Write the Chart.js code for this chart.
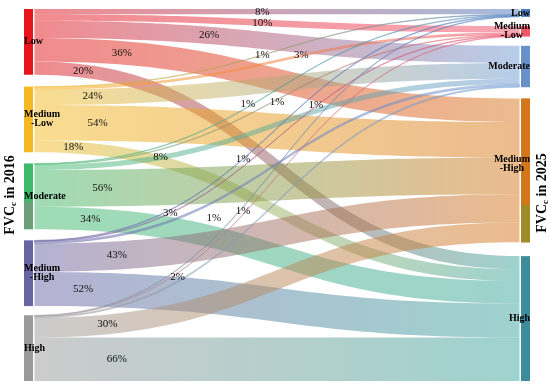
<!DOCTYPE html>
<html>
<head>
<meta charset="utf-8">
<script src="https://cdn.jsdelivr.net/npm/chart.js@4.4.0/dist/chart.umd.min.js"></script>
<style>
  html, body { margin: 0; padding: 0; background: #fff; }
  #wrap { width: 550px; height: 387px; }
</style>
</head>
<body>
<div id="wrap"><canvas id="sankeyChart" width="550" height="387"></canvas></div>
<script>
// FVCc classes in 2016 (left) and 2025 (right)
const sourceNames = ['Low', 'Medium\n-Low', 'Moderate', 'Medium\n-High', 'High'];
const targetNames = ['Low', 'Medium\n-Low', 'Moderate', 'Medium\n-High', 'High'];

// share (%) of each 2016 class ending up in each 2025 class
const fromLow        = [8, 10, 26, 36, 20];
const fromMediumLow  = [1, 3, 24, 54, 18];
const fromModerate   = [1, 1, 8, 56, 34];
const fromMediumHigh = [1, 1, 3, 43, 52];
const fromHigh       = [1, 1, 2, 30, 66];
const flows = [fromLow, fromMediumLow, fromModerate, fromMediumHigh, fromHigh];

// layout + style (kept apart from the data)
const srcGaps = [18, 17, 17, 14];
const tgtGaps = [14, 14, 17, 21];
const NODE_W = 9 / 506;
const LINK_GAP = 1.5 / 506;
const srcColors = ['#e3171f', '#f5bb22', '#41b96c', '#6b66a6', '#999999'];
const tgtColors = ['#4a7bbf', '#f0506a', '#6f9bd3', '#d9781e', '#3ea79e'];
const srcNodeColors = ['#e8141c', '#f5b820', '#3dba6a', '#6a63a2', '#9a9a9a'];
const tgtNodeColors = ['#4d7cbd', '#f25868', '#6891c9', '#d4761a', '#3d8c9c'];
const srcNodeSplit = [null, null, { at: 0.58, color: '#6c9c78' }, null, null];
const tgtNodeSplit = [null, null, null, { at: 0.74, color: '#a08c26' }, null];
const tgtLabelDy = [0, 0, 0, -6, 0];
// where along each link (fraction of its width) the % label sits, plus a small nudge
const labelAlong = [
  [0.47, 0.47, 0.36, 0.18, 0.10],
  [0.47, 0.55, 0.12, 0.13, 0.08],
  [0.44, 0.50, 0.26, 0.14, 0.115],
  [0.58, 0.43, 0.28, 0.17, 0.10],
  [0.37, 0.43, 0.295, 0.15, 0.17]
];
const labelDy = [
  [0, 0, 0, 0, 0],
  [0, 0, 0, 0, 0],
  [-3, 2, 0, 0, 0],
  [12, -8, -8, 0, 0],
  [-20, -3, -5, 0, 0]
];
const SERIF = "'Liberation Serif', 'Times New Roman', serif";

const yMax = 500 + srcGaps.reduce((a, b) => a + b, 0);

function stackStarts(totals, gaps) {
  const starts = [];
  let acc = 0;
  totals.forEach((t, i) => {
    starts.push(acc);
    acc += t + (gaps[i] || 0);
  });
  return starts;
}

function drawNodeLabel(ctx, text, x, yc, align) {
  const lines = text.split('\n');
  ctx.font = 'bold 10px ' + SERIF;
  const w = Math.max(...lines.map(l => ctx.measureText(l).width));
  const cx = align === 'left' ? x + w / 2 : x - w / 2;
  const lh = 9;
  ctx.textAlign = 'center';
  ctx.textBaseline = 'middle';
  ctx.fillStyle = '#000';
  lines.forEach((l, k) => {
    ctx.fillText(l, cx, yc + (k - (lines.length - 1) / 2) * lh);
  });
}

function drawTitle(ctx, year, cx, cy) {
  ctx.save();
  ctx.translate(cx, cy);
  ctx.rotate(-Math.PI / 2);
  const big = 'bold 14px ' + SERIF, small = 'bold 9px ' + SERIF;
  ctx.font = big;
  const w1 = ctx.measureText('FVC').width;
  const w3 = ctx.measureText(' in ' + year).width;
  ctx.font = small;
  const w2 = ctx.measureText('c').width;
  let x = -(w1 + w2 + w3) / 2;
  ctx.fillStyle = '#000';
  ctx.textAlign = 'left';
  ctx.textBaseline = 'middle';
  ctx.font = big;
  ctx.fillText('FVC', x, 0);
  x += w1;
  ctx.font = small;
  ctx.fillText('c', x, 4);
  x += w2;
  ctx.font = big;
  ctx.fillText(' in ' + year, x, 0);
  ctx.restore();
}

const sankeyPlugin = {
  id: 'sankey',
  afterDatasetsDraw(chart) {
    const { ctx, scales: { x, y } } = chart;
    const srcTotals = flows.map(r => r.reduce((a, b) => a + b, 0));
    const tgtTotals = targetNames.map((_, j) => flows.reduce((a, r) => a + r[j], 0));
    const srcStart = stackStarts(srcTotals, srcGaps);
    const tgtStart = stackStarts(tgtTotals, tgtGaps);
    const srcOff = srcStart.slice();
    const tgtOff = tgtStart.slice();

    const x0 = x.getPixelForValue(NODE_W + LINK_GAP);
    const x1 = x.getPixelForValue(1 - NODE_W - LINK_GAP);
    const xm = (x0 + x1) / 2;
    const labels = [];

    ctx.save();
    flows.forEach((row, i) => {
      row.forEach((v, j) => {
        const a0 = y.getPixelForValue(srcOff[i]);
        const a1 = y.getPixelForValue(srcOff[i] + v);
        const b0 = y.getPixelForValue(tgtOff[j]);
        const b1 = y.getPixelForValue(tgtOff[j] + v);
        srcOff[i] += v;
        tgtOff[j] += v;

        const g = ctx.createLinearGradient(x0, 0, x1, 0);
        g.addColorStop(0, srcColors[i]);
        g.addColorStop(1, tgtColors[j]);
        ctx.globalAlpha = 0.5;
        ctx.fillStyle = g;
        ctx.beginPath();
        ctx.moveTo(x0, a0);
        ctx.bezierCurveTo(xm, a0, xm, b0, x1, b0);
        ctx.lineTo(x1, b1);
        ctx.bezierCurveTo(xm, b1, xm, a1, x0, a1);
        ctx.closePath();
        ctx.fill();
        if (v <= 3) {
          // thin links: outline so they read as lines
          ctx.strokeStyle = g;
          ctx.lineWidth = 0.7;
          ctx.stroke();
        }

        // label position: solve bezier parameter for the wanted x
        const a = (a0 + a1) / 2, b = (b0 + b1) / 2;
        const tx = labelAlong[i][j];
        let lo = 0, hi = 1;
        for (let k = 0; k < 30; k++) {
          const u = (lo + hi) / 2;
          const fx = 1.5 * u - 1.5 * u * u + u * u * u;
          if (fx < tx) lo = u; else hi = u;
        }
        const u = (lo + hi) / 2;
        labels.push({
          text: v + '%',
          x: x0 + (x1 - x0) * tx,
          y: a + (b - a) * (3 * u * u - 2 * u * u * u) + labelDy[i][j]
        });
      });
    });
    ctx.globalAlpha = 1;

    // nodes
    const drawNode = (xa, xb, s, t, color, split) => {
      const top = y.getPixelForValue(s), bot = y.getPixelForValue(s + t);
      const left = x.getPixelForValue(xa), right = x.getPixelForValue(xb);
      ctx.fillStyle = color;
      ctx.fillRect(left, top, right - left, bot - top);
      if (split) {
        const mid = top + (bot - top) * split.at;
        ctx.fillStyle = split.color;
        ctx.fillRect(left, mid, right - left, bot - mid);
      }
    };
    srcTotals.forEach((t, i) => drawNode(0, NODE_W, srcStart[i], t, srcNodeColors[i], srcNodeSplit[i]));
    tgtTotals.forEach((t, j) => drawNode(1 - NODE_W, 1, tgtStart[j], t, tgtNodeColors[j], tgtNodeSplit[j]));

    // % labels
    ctx.font = '11px ' + SERIF;
    ctx.fillStyle = '#111';
    ctx.textAlign = 'center';
    ctx.textBaseline = 'middle';
    labels.forEach(l => ctx.fillText(l.text, l.x, l.y));

    // node labels
    srcTotals.forEach((t, i) => {
      const yc = y.getPixelForValue(srcStart[i] + t / 2);
      drawNodeLabel(ctx, sourceNames[i], x.getPixelForValue(0), yc, 'left');
    });
    tgtTotals.forEach((t, j) => {
      const yc = y.getPixelForValue(tgtStart[j] + t / 2) + tgtLabelDy[j];
      drawNodeLabel(ctx, targetNames[j], x.getPixelForValue(1), yc, 'right');
    });

    drawTitle(ctx, '2016', 10, 195);
    drawTitle(ctx, '2025', 542, 193);
    ctx.restore();
  }
};

const sankeyChart = new Chart(document.getElementById('sankeyChart').getContext('2d'), {
  type: 'scatter',
  data: { datasets: [{ data: [] }] },
  options: {
    responsive: false,
    animation: false,
    layout: { padding: { left: 24, right: 20, top: 9, bottom: 6 } },
    scales: {
      x: { type: 'linear', min: 0, max: 1, display: false },
      y: { type: 'linear', min: 0, max: yMax, reverse: true, display: false }
    },
    plugins: { legend: { display: false }, tooltip: { enabled: false } }
  },
  plugins: [sankeyPlugin]
});
</script>
</body>
</html>
